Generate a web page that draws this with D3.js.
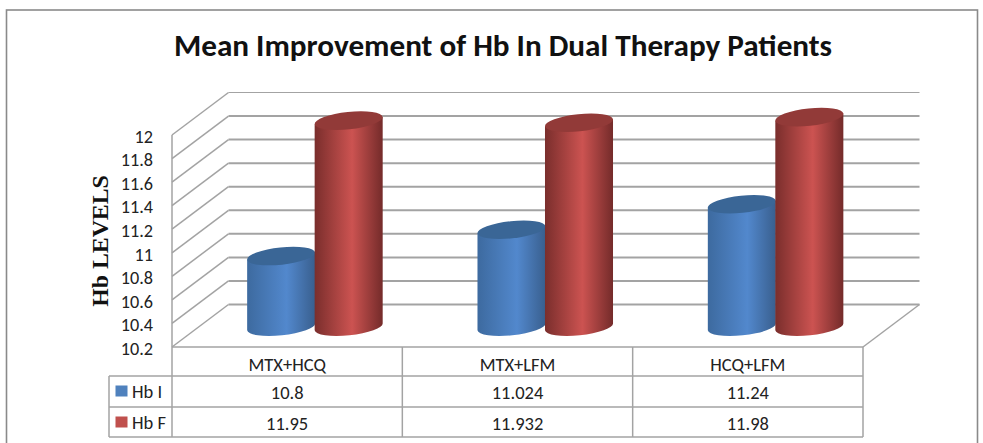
<!DOCTYPE html>
<html><head><meta charset="utf-8">
<script src="https://d3js.org/d3.v7.min.js"></script>
<style>html,body{margin:0;padding:0;background:#fff;overflow:hidden}</style>
</head><body><script>
const categories = ["MTX+HCQ","MTX+LFM","HCQ+LFM"];
const seriesNames = ["Hb I","Hb F"];
const hbI = [10.8,11.024,11.24];
const hbF = [11.95,11.932,11.98];
const hbILabels = ["10.8","11.024","11.24"];
const hbFLabels = ["11.95","11.932","11.98"];
const yTicks = [10.2,10.4,10.6,10.8,11,11.2,11.4,11.6,11.8,12];
const titleText = "Mean Improvement of Hb In Dual Therapy Patients";
const yTitle = "Hb LEVELS";
const colors = {"Hb I":"#4f81bd","Hb F":"#c0504d"};

const W=983,H=443, left=172,right=863,dx=56.5,dy=42.5;
const svg=d3.select("body").append("svg").attr("width",W).attr("height",H);
const font="Carlito, Lato, 'Open Sans', sans-serif";
const grid="#a3a3a3", border="#8a8a8a";

svg.append("rect").attr("x",6.5).attr("y",10).attr("width",971).attr("height",450).attr("fill","#fff").attr("stroke",border).attr("stroke-width",1.6);
svg.append("text").attr("x",503).attr("y",56).attr("text-anchor","middle").attr("font-family",font).attr("font-weight",700).attr("font-size",31.2).attr("fill","#111").text(titleText);

const y=d3.scaleLinear().domain([10.2,12]).range([347,135]);
const x=d3.scaleBand().domain(categories).range([left,right]);
const sub=d3.scaleBand().domain(seriesNames).range([-67.5,67.5]);

// walls
const g=svg.append("g").attr("fill","none").attr("stroke",grid).attr("stroke-width",1.5);
yTicks.forEach(t=>{
  if(t>10.2){
    g.append("line").attr("x1",left).attr("y1",y(t)).attr("x2",left+dx).attr("y2",y(t)-dy);
  }
  g.append("line").attr("x1",t===10.2?left:left+dx).attr("y1",t===10.2?y(t):y(t)-dy).attr("x2",left+dx).attr("y2",y(t)-dy);
  g.append("line").attr("x1",left+dx).attr("y1",y(t)-dy).attr("x2",right+dx).attr("y2",y(t)-dy).attr("stroke-width",t===12?1.2:2);
});
g.append("line").attr("x1",right).attr("y1",y(10.2)).attr("x2",right+dx).attr("y2",y(10.2)-dy);

// gradients
function grad(id,edgeL,mid,edgeR,pos){
  const lg=svg.append("defs").append("linearGradient").attr("id",id);
  [[0,edgeL],[pos,mid],[1,edgeR]].forEach(s=>lg.append("stop").attr("offset",s[0]).attr("stop-color",s[1]));
}
grad("gI","#3d6a9f","#5288cd","#395f8e",0.58);
grad("gF","#7a2e2c","#cc5351","#742b2a",0.55);
const topFill={"Hb I":"#3a6696","Hb F":"#923a38"};
const gradId={"Hb I":"gI","Hb F":"gF"};

// cylinders
const rx=34.2, ry=8.6, rot=-6, offX=dx/2-0.5, offY=dy/2-1;
const topShift=1.2;
const c=Math.cos(rot*Math.PI/180)*rx, s=Math.sin(rot*Math.PI/180)*rx;
const rows=seriesNames.map((n,i)=>({name:n,vals:i?hbF:hbI}));
categories.forEach((cat,ci)=>{
  rows.forEach(r=>{
    const cx=x(cat)+x.bandwidth()/2+sub(r.name)+sub.bandwidth()/2+offX;
    const yb=y(10.2)-offY, yt=y(r.vals[ci])-offY;
    const a=svg.append("g");
    a.append("path").attr("fill",`url(#${gradId[r.name]})`)
     .attr("d",`M${cx-c},${yt-s} L${cx-c},${yb-s} A${rx},${ry} ${rot} 0 0 ${cx+c},${yb+s} L${cx+c},${yt+s} Z`);
    a.append("ellipse").attr("rx",rx).attr("ry",ry).attr("fill",topFill[r.name])
     .attr("transform",`translate(${cx},${yt}) rotate(${rot})`);
  });
});

// y axis
const axis=d3.axisLeft(y).tickValues(yTicks).tickSize(0).tickPadding(19).tickFormat(d3.format("~g"));
const ax=svg.append("g").attr("transform",`translate(${left},1.5)`).call(axis);
ax.select(".domain").remove();
ax.selectAll("text").attr("font-family",font).attr("font-size",18.2).attr("fill","#222");
svg.append("line").attr("x1",left).attr("x2",left).attr("y1",y(12)).attr("y2",437).attr("stroke",grid).attr("stroke-width",1.5);

svg.append("text").attr("transform","translate(107.5,241) rotate(-90)").attr("text-anchor","middle")
  .attr("font-family","'Liberation Serif',serif").attr("font-weight",700).attr("font-size",23.8).attr("fill","#111").text(yTitle);

// data table
const rowY=[347,376,407,437], tableLeft=109;
const t=svg.append("g").attr("stroke",grid).attr("stroke-width",1.5);
t.append("line").attr("x1",left).attr("x2",right).attr("y1",rowY[0]).attr("y2",rowY[0]);
[1,2,3].forEach(i=>t.append("line").attr("x1",tableLeft).attr("x2",right).attr("y1",rowY[i]).attr("y2",rowY[i]));
t.append("line").attr("x1",tableLeft).attr("x2",tableLeft).attr("y1",rowY[1]).attr("y2",rowY[3]);
categories.forEach(cat=>{
  const xr=x(cat)+x.bandwidth();
  t.append("line").attr("x1",xr).attr("x2",xr).attr("y1",rowY[0]).attr("y2",rowY[3]);
});
const txt=(xp,yp,str,anchor)=>svg.append("text").attr("x",xp).attr("y",yp).attr("text-anchor",anchor||"middle")
  .attr("font-family",font).attr("font-size",18.5).attr("fill","#222").text(str);
categories.forEach((cat,i)=>{
  const m=x(cat)+x.bandwidth()/2;
  txt(m,rowY[0]+24,cat);
  txt(m,rowY[1]+22.5,hbILabels[i]);
  txt(m,rowY[2]+22.5,hbFLabels[i]);
});
seriesNames.forEach((n,i)=>{
  svg.append("rect").attr("x",115.5).attr("y",rowY[i+1]+9.5).attr("width",12).attr("height",11).attr("fill",colors[n]);
  txt(132,rowY[i+1]+21.5,n,"start");
});
</script></body></html>
